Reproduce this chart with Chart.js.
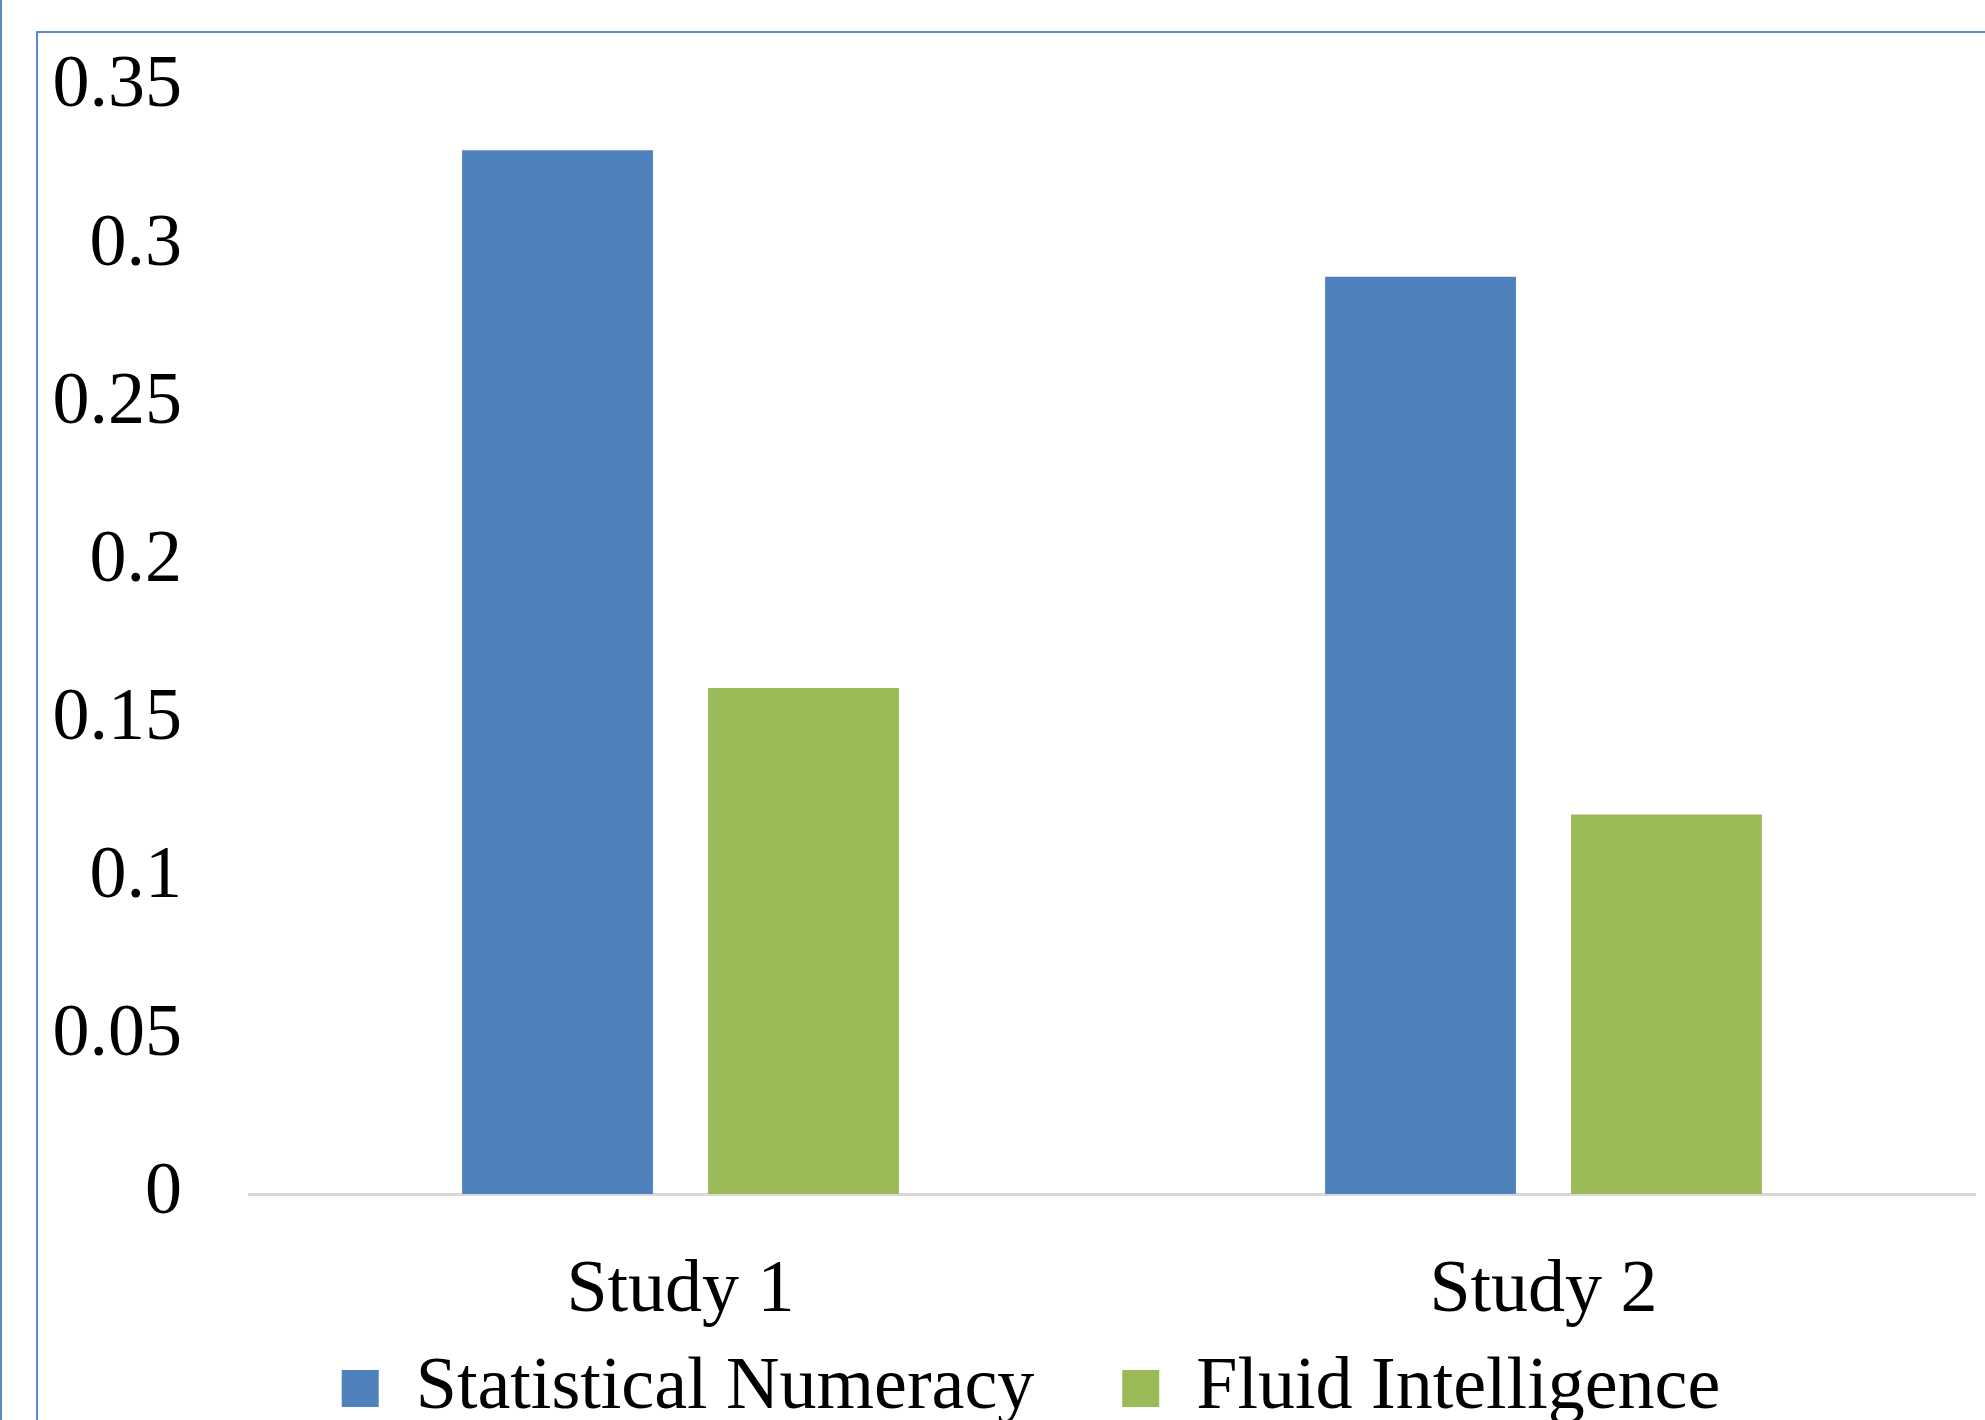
<!DOCTYPE html>
<html><head><meta charset="utf-8">
<script src="https://cdn.jsdelivr.net/npm/chart.js@4.4.1/dist/chart.umd.min.js"></script>
<style>
html,body{margin:0;padding:0;background:#fff;overflow:hidden;width:1985px;height:1420px;}
#wrap{position:absolute;left:0;top:0;width:1985px;height:1420px;overflow:hidden;background:#fff;}
#outer{position:absolute;left:0;top:0;width:2px;height:1420px;background:#5B8AC8;}
#frameL{position:absolute;left:36px;top:31px;width:2px;height:1400px;background:#5B8AC8;}
#frameT{position:absolute;left:36px;top:31px;width:1960px;height:2px;background:#5B8AC8;}
#c{position:absolute;left:0;top:0;}
</style></head><body>
<div id="wrap">
<div id="outer"></div><div id="frameL"></div><div id="frameT"></div>
<canvas id="c" width="1985" height="1516" style="width:1985px;height:1516px"></canvas>
</div>
<script>
const categories = ['Study 1', 'Study 2'];
const seriesNames = ['Statistical Numeracy', 'Fluid Intelligence'];
const statisticalNumeracy = [0.33, 0.29];
const fluidIntelligence = [0.16, 0.12];
const yTickLabels = ['0', '0.05', '0.1', '0.15', '0.2', '0.25', '0.3', '0.35'];

const FONT = 'Liberation Serif';

// Places the legend row below the category labels and centres it like the original
const legendPlace = {
  id: 'legendPlace',
  afterLayout(chart) {
    const lg = chart.legend;
    if (!lg) return;
    const dx = 43.5;
    lg.left += dx; lg.right += dx;
    const h = lg.height;
    lg.top = chart.chartArea.bottom + 69.5;
    lg.bottom = lg.top + h;
  }
};

new Chart(document.getElementById('c'), {
  type: 'bar',
  data: {
    labels: categories,
    datasets: [
      { label: seriesNames[0], data: statisticalNumeracy, backgroundColor: '#4F81BD', borderWidth: 0 },
      { label: seriesNames[1], data: fluidIntelligence, backgroundColor: '#9BBB59', borderWidth: 0 }
    ]
  },
  plugins: [legendPlace],
  options: {
    responsive: false,
    animation: false,
    devicePixelRatio: 1,
    categoryPercentage: 0.57,
    barPercentage: 0.776,
    layout: { padding: { left: 0, right: 10, top: 87, bottom: 0 } },
    plugins: {
      tooltip: { enabled: false },
      legend: {
        position: 'bottom',
        labels: {
          font: { family: FONT, size: 74 },
          color: '#000',
          boxWidth: 37, boxHeight: 37,
          padding: 88
        }
      }
    },
    scales: {
      x: {
        grid: { display: false, drawTicks: false },
        border: { display: true, color: '#D9D9D9', width: 3 },
        ticks: { font: { family: FONT, size: 74 }, color: '#000', padding: 53, maxRotation: 0 },
        afterFit: (s) => { s.height = 150; }
      },
      y: {
        min: 0, max: 0.35,
        grid: { display: false, drawTicks: false },
        border: { display: false },
        ticks: {
          stepSize: 0.05,
          font: { family: FONT, size: 74 },
          color: '#000',
          padding: 67,
          callback: (v, i) => yTickLabels[i]
        },
        afterFit: (s) => { s.width = 249; s.paddingTop = 0; s.paddingBottom = 0; }
      }
    }
  }
});
</script>
</body></html>
